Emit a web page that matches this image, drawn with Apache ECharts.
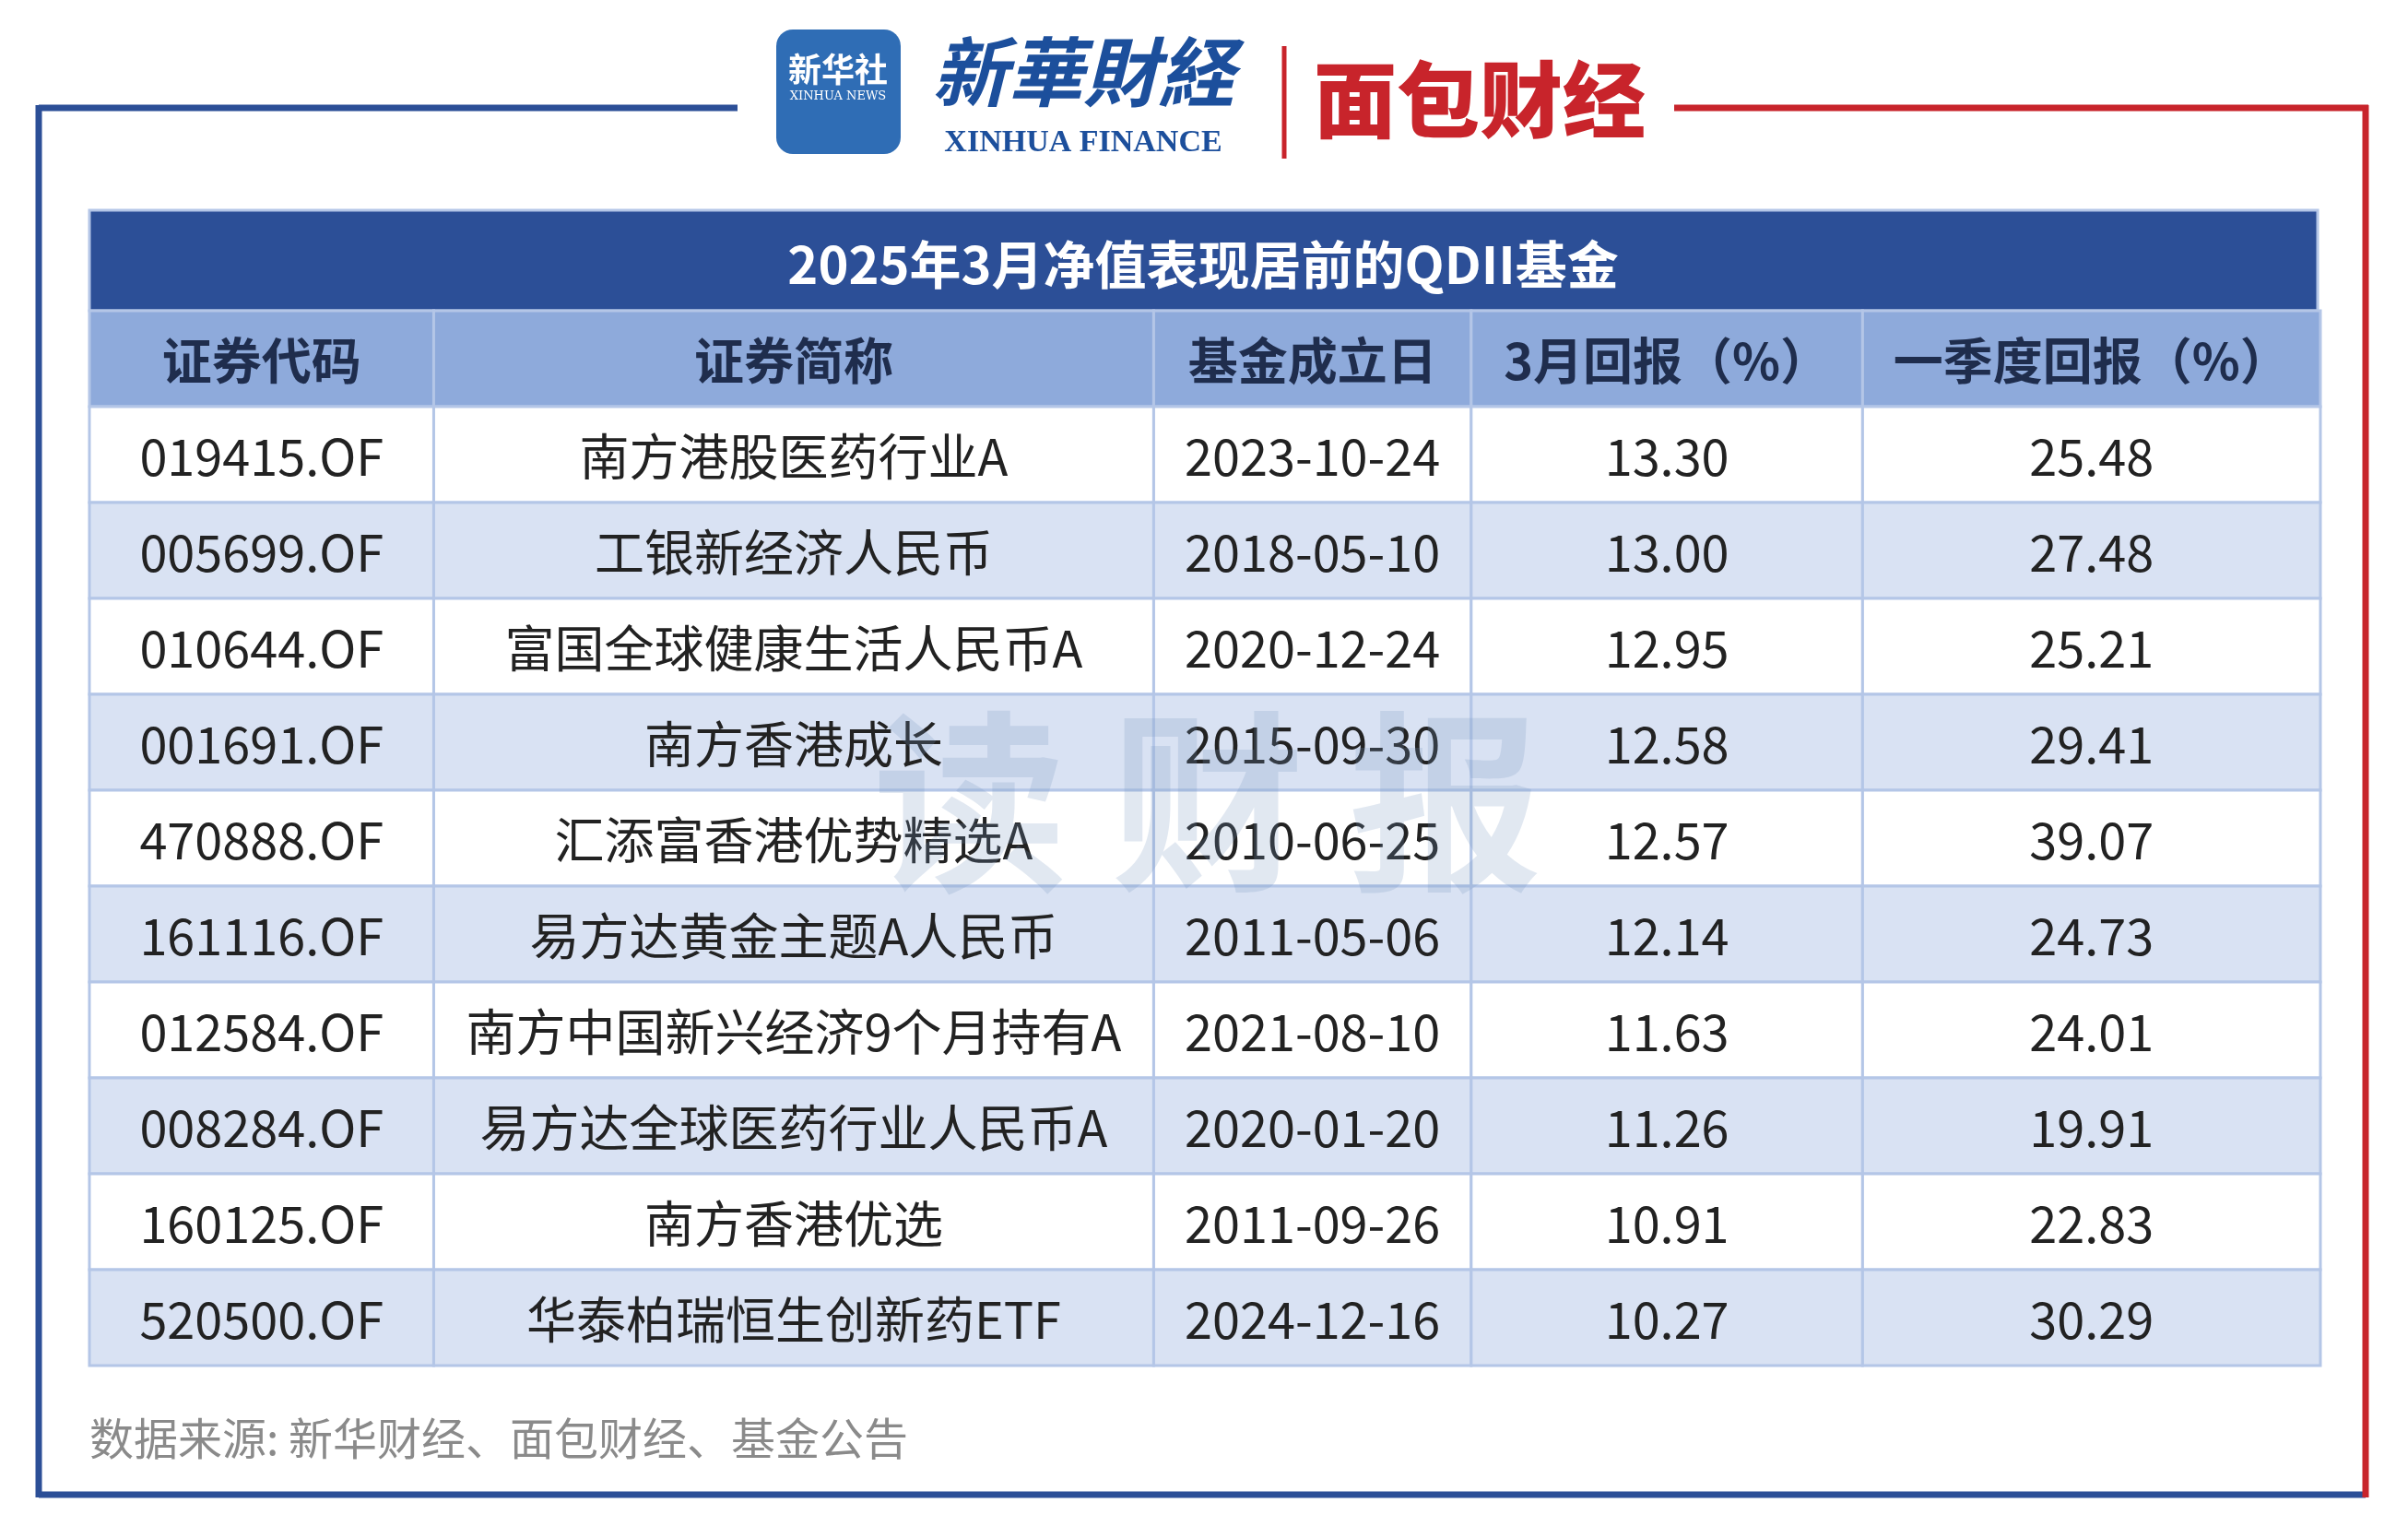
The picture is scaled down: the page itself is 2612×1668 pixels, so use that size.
<!DOCTYPE html>
<html><head><meta charset="utf-8">
<script src="https://cdn.jsdelivr.net/npm/echarts@6/dist/echarts.min.js"></script>
<style>html,body{margin:0;padding:0;background:#fff}#c{width:2612px;height:1668px}</style>
</head><body><div id="c"></div>
<script>
const title = '2025年3月净值表现居前的QDII基金';
const headers = ['证券代码','证券简称','基金成立日','3月回报（%）','一季度回报（%）'];
const codes = ['019415.OF','005699.OF','010644.OF','001691.OF','470888.OF','161116.OF','012584.OF','008284.OF','160125.OF','520500.OF'];
const names = ['南方港股医药行业A','工银新经济人民币','富国全球健康生活人民币A','南方香港成长','汇添富香港优势精选A','易方达黄金主题A人民币','南方中国新兴经济9个月持有A','易方达全球医药行业人民币A','南方香港优选','华泰柏瑞恒生创新药ETF'];
const dates = ['2023-10-24','2018-05-10','2020-12-24','2015-09-30','2010-06-25','2011-05-06','2021-08-10','2020-01-20','2011-09-26','2024-12-16'];
const marchRet = [13.30,13.00,12.95,12.58,12.57,12.14,11.63,11.26,10.91,10.27];
const q1Ret = [25.48,27.48,25.21,29.41,39.07,24.73,24.01,19.91,22.83,30.29];
const source = '数据来源: 新华财经、面包财经、基金公告';

const colEdges = [0, 373, 1153, 1497, 1921, 2417];
const rowsLabels = ['h'].concat(codes);
const cells = [];
headers.forEach((h,i)=>cells.push([i,0,h]));
codes.forEach((c,r)=>{
  const vals=[c,names[r],dates[r],marchRet[r].toFixed(2),q1Ret[r].toFixed(2)];
  vals.forEach((v,i)=>cells.push([i,r+1,v]));
});
const chart = echarts.init(document.getElementById('c'));
chart.setOption({
  backgroundColor:'#fff',
  animation:false,
  grid:{left:97,right:95,top:337,bottom:187},
  xAxis:{type:'value',min:0,max:2417,show:false},
  yAxis:{type:'category',data:rowsLabels,inverse:true,show:false},
  series:[{
    type:'custom',
    data:cells,
    renderItem:function(params,api){
      const ci=api.value(0), ri=api.value(1);
      const p0=api.coord([colEdges[ci],ri]);
      const p1=api.coord([colEdges[ci+1],ri]);
      const h=api.size([0,1])[1];
      const fill = ri===0 ? '#8EAADB' : (ri%2===0 ? '#D9E2F3' : '#ffffff');
      const txt = cells[params.dataIndex][2];
      return {type:'group',children:[
        {type:'rect',shape:{x:p0[0],y:p0[1]-h/2,width:p1[0]-p0[0],height:h},
         style:{fill:fill,stroke:'#B4C6E7',lineWidth:3}},
        {type:'text',style:{x:(p0[0]+p1[0])/2,y:p0[1]+2,text:txt,align:'center',verticalAlign:'middle',
          fill:ri===0?'#1F2D4D':'#222',font:(ri===0?'bold 54px':'54px')+' "Noto Sans CJK SC"'}}
      ]};
    }
  }],
  graphic:[
    {type:'rect',shape:{x:97,y:228,width:2417,height:109},style:{fill:'#2C4F97',stroke:'#B4C6E7',lineWidth:3}},
    {type:'text',style:{x:1305,y:287,text:title,align:'center',verticalAlign:'middle',fill:'#fff',font:'bold 56px "Noto Sans CJK SC"'}},
    {type:'line',shape:{x1:42,y1:117,x2:800,y2:117},style:{stroke:'#2C4F97',lineWidth:7}},
    {type:'line',shape:{x1:42,y1:114,x2:42,y2:1624},style:{stroke:'#2C4F97',lineWidth:7}},
    {type:'line',shape:{x1:42,y1:1621,x2:2566,y2:1621},style:{stroke:'#2C4F97',lineWidth:7}},
    {type:'line',shape:{x1:1816,y1:117,x2:2569,y2:117},style:{stroke:'#C8242B',lineWidth:7}},
    {type:'line',shape:{x1:2566,y1:114,x2:2566,y2:1624},style:{stroke:'#C8242B',lineWidth:7}},
    {type:'rect',shape:{x:842,y:32,width:135,height:135,r:18},style:{fill:'#2F6DB5'}},
    {type:'text',style:{x:909,y:75,text:'新华社',align:'center',verticalAlign:'middle',fill:'#fff',font:'bold 36px "Noto Sans CJK SC"'}},
    {type:'text',style:{x:909,y:105,text:'XINHUA NEWS',align:'center',verticalAlign:'middle',fill:'#fff',font:'13px "DejaVu Serif"'}},
    {type:'text',style:{x:1175,y:78,text:'新華財経',align:'center',verticalAlign:'middle',fill:'#1C4F9C',font:'italic bold 82px "Noto Sans CJK SC"'}},
    {type:'text',style:{x:1175,y:155,text:'XINHUA FINANCE',align:'center',verticalAlign:'middle',fill:'#1C4F9C',font:'bold 34px "Liberation Serif"'}},
    {type:'line',shape:{x1:1393,y1:50,x2:1393,y2:172},style:{stroke:'#C8242B',lineWidth:5}},
    {type:'text',style:{x:1605,y:108,text:'面包财经',align:'center',verticalAlign:'middle',fill:'#C8242B',font:'900 90px "Noto Sans CJK SC"'}},
    {type:'text',z:100,style:{x:1310,y:870,text:'读 财 报',align:'center',verticalAlign:'middle',fill:'rgba(120,150,190,0.22)',font:'bold 210px "Noto Sans CJK SC"'}},
    {type:'text',style:{x:97,y:1560,text:source,verticalAlign:'middle',fill:'#8A8A8A',font:'48px "Noto Sans CJK SC"'}}
  ]
});
</script></body></html>
